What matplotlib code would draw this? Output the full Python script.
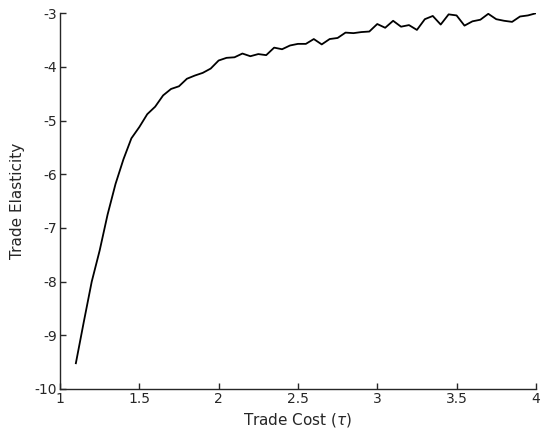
import matplotlib
matplotlib.use("Agg")
import matplotlib.pyplot as plt

trade_cost = [1.10, 1.15, 1.20, 1.25, 1.30, 1.35, 1.40, 1.45, 1.50, 1.55,
              1.60, 1.65, 1.70, 1.75, 1.80, 1.85, 1.90, 1.95, 2.00, 2.05,
              2.10, 2.15, 2.20, 2.25, 2.30, 2.35, 2.40, 2.45, 2.50, 2.55,
              2.60, 2.65, 2.70, 2.75, 2.80, 2.85, 2.90, 2.95, 3.00, 3.05,
              3.10, 3.15, 3.20, 3.25, 3.30, 3.35, 3.40, 3.45, 3.50, 3.55,
              3.60, 3.65, 3.70, 3.75, 3.80, 3.85, 3.90, 3.95, 4.00]
elasticity = [-9.52, -8.75, -8.00, -7.42, -6.75, -6.18, -5.72, -5.33, -5.12, -4.88,
              -4.74, -4.53, -4.41, -4.36, -4.22, -4.16, -4.11, -4.03, -3.88, -3.83,
              -3.82, -3.75, -3.80, -3.76, -3.78, -3.64, -3.67, -3.60, -3.57, -3.57,
              -3.48, -3.58, -3.48, -3.46, -3.36, -3.37, -3.35, -3.34, -3.20, -3.27,
              -3.14, -3.25, -3.22, -3.31, -3.11, -3.05, -3.21, -3.02, -3.04, -3.23,
              -3.15, -3.12, -3.01, -3.11, -3.14, -3.16, -3.06, -3.04, -3.00]

xticks = [1, 1.5, 2, 2.5, 3, 3.5, 4]
xticklabels = ["1", "1.5", "2", "2.5", "3", "3.5", "4"]
yticks = [-10, -9, -8, -7, -6, -5, -4, -3]
yticklabels = ["-10", "-9", "-8", "-7", "-6", "-5", "-4", "-3"]

fig = plt.figure(figsize=(5.42, 4.34), dpi=100)
ax = fig.add_axes([0.1107, 0.1037, 0.878, 0.8657])
ax.plot(trade_cost, elasticity, color="black", linewidth=1.3)
ax.set_xlim(1, 4)
ax.set_ylim(-10, -3)
ax.set_xticks(xticks)
ax.set_xticklabels(xticklabels)
ax.set_yticks(yticks)
ax.set_yticklabels(yticklabels)
for s in ["top", "right"]:
    ax.spines[s].set_visible(False)
for s in ["left", "bottom"]:
    ax.spines[s].set_color("#262626")
    ax.spines[s].set_linewidth(1.0)
ax.tick_params(direction="in", length=4, width=1.0, colors="#262626",
               labelsize=10, pad=2)
ax.set_xlabel(r"Trade Cost ($\tau$)", fontsize=11, color="#262626", labelpad=4)
ax.set_ylabel("Trade Elasticity", fontsize=11, color="#262626", labelpad=7)
fig.savefig("out.png", dpi=100)
